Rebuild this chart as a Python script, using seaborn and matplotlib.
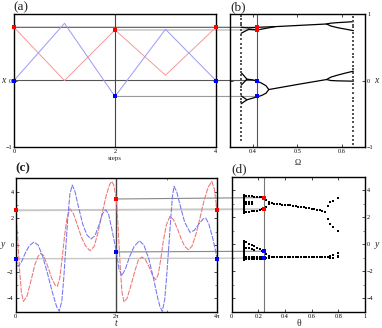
import matplotlib
matplotlib.use("Agg")
import matplotlib.pyplot as plt
import numpy as np
import seaborn as sns
from matplotlib.patches import ConnectionPatch

# (a) map iterates over 4 steps
steps = [0, 1, 2, 3, 4]
x_red = [0.80, 0.0, 0.76, 0.08, 0.80]
x_blue = [0.0, 0.86, -0.24, 0.77, 0.0]

# (b) bifurcation diagram x vs Omega
omega_star = 0.41
b_up_a_om = [0.374, 0.391, 0.41, 0.45, 0.566]
b_up_a_x = [0.80, 0.79, 0.80, 0.81, 0.85]
b_up_b_om = [0.374, 0.391, 0.41, 0.45]
b_up_b_x = [0.71, 0.77, 0.76, 0.81]
b_fork_om = [0.566, 0.575, 0.59, 0.61, 0.626]
b_fork_up_hi = [0.85, 0.862, 0.870, 0.878, 0.885]
b_fork_up_lo = [0.85, 0.82, 0.795, 0.77, 0.75]
b_low1_om = [0.374, 0.387, 0.40, 0.41, 0.42, 0.43, 0.436]
b_low1_x = [0.12, 0.02, 0.01, -0.01, -0.04, -0.08, -0.136]
b_low2_x = [-0.35, -0.29, -0.265, -0.245, -0.225, -0.19, -0.136]
b_tri_om = [0.374, 0.387]
b_tri1_x = [-0.07, 0.02]
b_tri2_x = [-0.23, -0.29]
b_mid_om = [0.436, 0.50, 0.566]
b_mid_x = [-0.136, -0.06, 0.015]
b_fork_low_hi = [0.015, 0.05, 0.08, 0.115, 0.14]
b_fork_low_lo = [0.015, 0.0, -0.005, -0.008, -0.01]
chaos_left_om = 0.374
chaos_left_x = [0.97, 0.92, 0.87, 0.83, 0.76, 0.68, 0.62, 0.55, 0.49, 0.42, 0.36,
                0.30, 0.25, 0.18, 0.13, 0.08, 0.03, -0.04, -0.10, -0.15, -0.20,
                -0.28, -0.33, -0.40, -0.46, -0.52, -0.58, -0.64, -0.71, -0.77,
                -0.83, -0.90]
chaos_right_om = 0.626
chaos_right_x = [0.95, 0.90, 0.84, 0.80, 0.72, 0.66, 0.60, 0.54, 0.47, 0.40, 0.35,
                 0.28, 0.22, 0.17, 0.11, 0.06, 0.01, -0.05, -0.12, -0.19, -0.26,
                 -0.31, -0.38, -0.45, -0.50, -0.57, -0.63, -0.70, -0.76, -0.83,
                 -0.89, -0.95]
b_red = [0.80, 0.76]
b_blue = [0.0, -0.24]

# (c) time series over two forcing periods
t_red = [0.00, 0.12, 0.25, 0.36, 0.48, 0.70, 0.95, 1.20, 1.40, 1.56, 1.75, 2.00,
         2.25, 2.45, 2.60, 2.75, 2.90, 3.05, 3.20, 3.39, 3.60, 3.85, 4.10, 4.35,
         4.64, 4.90, 5.15, 5.40, 5.65, 5.85, 5.99, 6.12, 6.283,
         6.40, 6.52, 6.63, 6.76, 6.95, 7.20, 7.45, 7.65, 7.87, 8.10, 8.35, 8.55,
         8.74, 8.90, 9.05, 9.20, 9.40, 9.63, 9.85, 10.10, 10.35, 10.55, 10.78,
         11.00, 11.25, 11.50, 11.75, 12.00, 12.24, 12.40, 12.566]
y_red = [2.60, 0.60, -2.00, -3.60, -4.22, -3.85, -2.70, -1.45, -0.85, -0.62, -0.80,
         -1.60, -2.50, -2.98, -3.10, -2.50, -1.00, 0.70, 2.00, 2.72, 2.35, 1.50,
         0.60, -0.05, -0.43, -0.10, 1.00, 2.40, 3.70, 4.50, 4.77, 4.50, 3.45,
         1.20, -1.50, -3.50, -4.27, -4.00, -3.00, -1.90, -1.15, -0.90, -1.10,
         -1.70, -2.30, -2.60, -2.20, -1.10, 0.20, 1.50, 2.15, 1.90, 1.20, 0.40,
         -0.10, -0.35, -0.10, 0.80, 2.00, 3.30, 4.30, 4.77, 4.20, 2.60]
t_blue = [0.00, 0.15, 0.35, 0.60, 0.85, 1.14, 1.40, 1.70, 2.00, 2.30, 2.55, 2.72,
          2.88, 3.00, 3.12, 3.25, 3.38, 3.53, 3.70, 3.95, 4.20, 4.45, 4.70, 4.95,
          5.20, 5.42, 5.62, 5.80, 6.00, 6.15, 6.283,
          6.45, 6.62, 6.85, 7.10, 7.40, 7.72, 8.00, 8.30, 8.60, 8.85, 9.00, 9.15,
          9.30, 9.42, 9.55, 9.68, 9.78, 9.88, 10.05, 10.30, 10.55, 10.88, 11.15,
          11.45, 11.70, 11.86, 12.05, 12.30, 12.45, 12.566]
y_blue = [-1.03, -1.60, -1.30, -0.60, -0.05, 0.22, 0.00, -0.90, -2.20, -3.60, -4.60,
          -4.97, -4.20, -2.50, -0.30, 2.00, 3.80, 4.50, 4.00, 2.70, 1.50, 0.75,
          0.45, 0.70, 1.50, 2.35, 2.64, 2.30, 1.20, 0.30, -0.52,
          -1.80, -2.30, -1.80, -0.90, -0.10, 0.32, 0.00, -1.00, -2.50, -3.90,
          -4.60, -4.97, -4.10, -2.40, -0.20, 2.00, 3.60, 4.40, 4.00, 2.80, 1.70,
          0.95, 1.10, 1.60, 1.95, 2.02, 1.60, 0.50, -0.30, -1.03]
c_mark_t = [0.0, 2 * np.pi, 4 * np.pi]
c_red = [2.60, 3.45, 2.60]
c_blue = [-1.03, -0.52, -1.03]

# (d) stroboscopic y vs theta
theta_star = 0.24
d_col_theta = 0.09
d_col_up = [3.62, 3.55, 3.48, 3.40, 3.32, 3.22, 3.12, 3.02, 2.92, 2.82, 2.72, 2.62,
            2.52, 2.42, 2.32]
d_col_low = [0.27, 0.18, 0.08, -0.02, -0.12, -0.22, -0.32, -0.42, -0.52, -0.62,
             -0.72, -0.82, -0.92, -1.02, -1.12, -1.20]
d_theta_l = [0.11, 0.13, 0.15, 0.17, 0.19, 0.21, 0.23]
d_row_a = [3.55, 3.55, 3.54, 3.53, 3.52, 3.50, 3.47]
d_row_c = [2.42, 2.42, 2.43, 2.45, 2.48, 2.52, 2.57]
d_row_d = [0.15, 0.05, -0.05, -0.16, -0.27, -0.38, -0.48]
d_row_f1 = [-0.92, -0.92, -0.92, -0.93, -0.93, -0.93, -0.94]
d_row_f2 = [-1.08, -1.08, -1.08, -1.08, -1.08, -1.08, -1.08]
d_theta_b = [0.11, 0.13, 0.15]
d_row_b1 = [3.15, 3.14, 3.12]
d_row_b2 = [2.96, 2.96, 2.97]
d_theta_e = [0.11, 0.13, 0.15, 0.17]
d_row_e = [-0.25, -0.30, -0.37, -0.44]
d_theta_m = [0.26, 0.28]
d_merge_hi = [3.28, 3.10]
d_merge_lo = [2.78, 2.95]
d_merge_neg = [-0.75, -0.90]
d_theta_u = [0.30, 0.32, 0.34, 0.36, 0.38, 0.40, 0.42, 0.44, 0.46, 0.48, 0.50,
             0.52, 0.54, 0.56, 0.58, 0.60, 0.62, 0.64, 0.66, 0.68, 0.70]
d_row_u = [3.02, 3.00, 2.98, 2.96, 2.94, 2.92, 2.90, 2.88, 2.85, 2.82, 2.79,
           2.75, 2.72, 2.68, 2.65, 2.62, 2.58, 2.55, 2.51, 2.46, 2.40]
d_theta_n = [0.26, 0.28, 0.30, 0.32, 0.34, 0.36, 0.38, 0.40, 0.42, 0.44, 0.46,
             0.48, 0.50, 0.52, 0.54, 0.56, 0.58, 0.60, 0.62, 0.64, 0.66, 0.68, 0.70]
d_row_n = [-1.00, -0.99, -0.98, -0.98, -0.98, -0.98, -0.98, -0.98, -0.98, -0.98,
           -0.98, -0.98, -0.98, -0.98, -0.98, -0.98, -0.98, -0.98, -0.98, -0.98,
           -0.98, -0.98, -0.98]
d_theta_f = [0.72, 0.74, 0.76, 0.80]
d_fork_hi = [2.85, 3.09, 3.22, 3.39]
d_fork_lo = [1.90, 1.52, 1.27, 0.95]
d_theta_k = [0.72, 0.74, 0.74, 0.76, 0.76, 0.80, 0.80, 0.80]
d_cluster = [-0.95, -0.85, -1.03, -0.78, -1.02, -0.65, -0.85, -0.98]
d_red = [3.45, 2.60]
d_blue = [-0.52, -1.03]

sns.set_style("ticks")
plt.rcParams["font.family"] = ["Liberation Serif", "DejaVu Serif"]
plt.rcParams["axes.linewidth"] = 1.0

fig = plt.figure(figsize=(3.82, 3.28), dpi=100)
ax_a = fig.add_axes([0.0366, 0.5518, 0.5288, 0.4055])
ax_b = fig.add_axes([0.6021, 0.5518, 0.3534, 0.4055])
ax_c = fig.add_axes([0.0411, 0.0497, 0.5270, 0.4067])
ax_d = fig.add_axes([0.6065, 0.0497, 0.3490, 0.4116])

for ax in [ax_a, ax_b, ax_c, ax_d]:
    ax.set_facecolor("none")
    for s in ax.spines.values():
        s.set_color("black")
    ax.tick_params(direction="in", length=2, width=0.5, labelsize=4.5, pad=1.5,
                   top=True, right=True, colors="black")
    ax.tick_params(which="minor", direction="in", length=1.2, width=0.4,
                   top=True, right=True)

red_m = "#ff0000"
blue_m = "#0000ff"

# panel (a)
sns.lineplot(x=steps, y=x_red, ax=ax_a, color="#f59a9a", lw=0.7, sort=False, zorder=2)
sns.lineplot(x=steps, y=x_blue, ax=ax_a, color="#9a9af5", lw=0.7, sort=False, zorder=2)
ax_a.axvline(2, color="#444444", lw=0.8, zorder=1)
sns.scatterplot(x=[0, 2, 4], y=[x_red[0], x_red[2], x_red[4]], ax=ax_a, color=red_m,
                marker="s", s=9, linewidth=0, zorder=5, clip_on=False)
sns.scatterplot(x=[0, 2, 4], y=[x_blue[0], x_blue[2], x_blue[4]], ax=ax_a, color=blue_m,
                marker="s", s=9, linewidth=0, zorder=5, clip_on=False)
ax_a.set_xlim(0, 4)
ax_a.set_ylim(-1, 1)
ax_a.set_xticks([0, 2, 4])
ax_a.set_yticks([-1, 0, 1])
ax_a.set_yticklabels(["\u22121", "0", ""])
ax_a.set_xlabel("steps", fontsize=5)
ax_a.xaxis.set_label_coords(0.5, -0.087)
ax_a.xaxis.label.set_va("center")
ax_a.set_ylabel("x", fontsize=7, style="italic", rotation=0)
ax_a.yaxis.set_label_coords(-0.055, 0.5)
ax_a.yaxis.label.set_va("center")

# panel (b)
for om, xs in [(b_up_a_om, b_up_a_x), (b_up_b_om, b_up_b_x),
               (b_fork_om, b_fork_up_hi), (b_fork_om, b_fork_up_lo),
               (b_low1_om, b_low1_x), (b_low1_om, b_low2_x),
               (b_tri_om, b_tri1_x), (b_tri_om, b_tri2_x),
               (b_mid_om, b_mid_x), (b_fork_om, b_fork_low_hi),
               (b_fork_om, b_fork_low_lo)]:
    sns.lineplot(x=om, y=xs, ax=ax_b, color="black", lw=0.9, sort=False, zorder=3)
sns.scatterplot(x=[chaos_left_om] * len(chaos_left_x), y=chaos_left_x, ax=ax_b,
                color="#555555", marker="s", s=0.6, linewidth=0, zorder=3)
sns.scatterplot(x=[chaos_right_om] * len(chaos_right_x), y=chaos_right_x, ax=ax_b,
                color="#555555", marker="s", s=0.6, linewidth=0, zorder=3)
ax_b.axvline(omega_star, color="#555555", lw=0.8, zorder=1)
sns.scatterplot(x=[omega_star] * 2, y=b_red, ax=ax_b, color=red_m, marker="s", s=9,
                linewidth=0, zorder=5)
sns.scatterplot(x=[omega_star] * 2, y=b_blue, ax=ax_b, color=blue_m, marker="s", s=9,
                linewidth=0, zorder=5)
ax_b.set_xlim(0.349, 0.652)
ax_b.set_ylim(-1, 1)
ax_b.set_xticks([0.4, 0.5, 0.6])
ax_b.set_yticks([-1, 0, 1])
ax_b.set_yticklabels(["\u22121", "0", "1"])
ax_b.tick_params(labelleft=False, labelright=True)
ax_b.set_xlabel("\u03a9", fontsize=6)
ax_b.xaxis.set_label_coords(0.5, -0.12)
ax_b.xaxis.label.set_va("center")
ax_b.set_ylabel("x", fontsize=7, style="italic", rotation=0)
ax_b.yaxis.set_label_position("right")
ax_b.yaxis.set_label_coords(1.087, 0.5)
ax_b.yaxis.label.set_va("center")

# panel (c)
sns.lineplot(x=t_red, y=y_red, ax=ax_c, color="#ee7474", lw=0.75, sort=False,
             linestyle=(0, (5, 1.2)), zorder=2)
sns.lineplot(x=t_blue, y=y_blue, ax=ax_c, color="#7474ee", lw=0.75, sort=False,
             linestyle=(0, (5, 1.2)), zorder=2)
ax_c.axvline(2 * np.pi, color="#444444", lw=1.0, zorder=1)
sns.scatterplot(x=c_mark_t, y=c_red, ax=ax_c, color=red_m, marker="s", s=9,
                linewidth=0, zorder=5, clip_on=False)
sns.scatterplot(x=c_mark_t, y=c_blue, ax=ax_c, color=blue_m, marker="s", s=9,
                linewidth=0, zorder=5, clip_on=False)
ax_c.set_xlim(0, 4 * np.pi)
ax_c.set_ylim(-5, 5)
ax_c.set_xticks([0, 2 * np.pi, 4 * np.pi])
ax_c.set_xticklabels(["0", "2\u03c0", "4\u03c0"])
ax_c.set_xticks([3 * np.pi], minor=True)
ax_c.set_yticks([-4, -2, 0, 2, 4])
ax_c.set_yticklabels(["\u22124", "\u22122", "0", "2", "4"])
ax_c.set_yticks([-3, -1, 1, 3], minor=True)
ax_c.set_xlabel("t", fontsize=7, style="italic")
ax_c.xaxis.set_label_coords(0.5, -0.087)
ax_c.xaxis.label.set_va("center")
ax_c.set_ylabel("y", fontsize=7, style="italic", rotation=0)
ax_c.yaxis.set_label_coords(-0.065, 0.5)
ax_c.yaxis.label.set_va("center")

# panel (d)
dot = dict(color="black", marker="s", s=1.0, linewidth=0, zorder=3)
sns.scatterplot(x=[d_col_theta] * len(d_col_up), y=d_col_up, ax=ax_d, **dot)
sns.scatterplot(x=[d_col_theta] * len(d_col_low), y=d_col_low, ax=ax_d, **dot)
for th, ys in [(d_theta_l, d_row_a), (d_theta_l, d_row_c), (d_theta_l, d_row_d),
               (d_theta_l, d_row_f1), (d_theta_l, d_row_f2), (d_theta_b, d_row_b1),
               (d_theta_b, d_row_b2), (d_theta_e, d_row_e), (d_theta_m, d_merge_hi),
               (d_theta_m, d_merge_lo), (d_theta_m, d_merge_neg), (d_theta_u, d_row_u),
               (d_theta_n, d_row_n), (d_theta_f, d_fork_hi), (d_theta_f, d_fork_lo),
               (d_theta_k, d_cluster)]:
    sns.scatterplot(x=th, y=ys, ax=ax_d, **dot)
ax_d.axvline(theta_star, color="#777777", lw=0.8, zorder=1)
sns.scatterplot(x=[theta_star] * 2, y=d_red, ax=ax_d, color=red_m, marker="s", s=9,
                linewidth=0, zorder=5)
sns.scatterplot(x=[theta_star] * 2, y=d_blue, ax=ax_d, color=blue_m, marker="s", s=9,
                linewidth=0, zorder=5)
ax_d.set_xlim(0, 1)
ax_d.set_ylim(-5, 5)
ax_d.set_xticks([0, 0.2, 0.4, 0.6, 0.8, 1.0])
ax_d.set_xticklabels(["0", "0.2", "0.4", "0.6", "0.8", "1"])
ax_d.set_yticks([-4, -2, 0, 2, 4])
ax_d.set_yticklabels(["\u22124", "\u22122", "0", "2", "4"])
ax_d.set_yticks([-3, -1, 1, 3], minor=True)
ax_d.tick_params(labelleft=False, labelright=True)
ax_d.set_xlabel("\u03b8", fontsize=7)
ax_d.xaxis.set_label_coords(0.5, -0.086)
ax_d.xaxis.label.set_va("center")
ax_d.set_ylabel("y", fontsize=7, style="italic", rotation=0)
ax_d.yaxis.set_label_position("right")
ax_d.yaxis.set_label_coords(1.088, 0.5)
ax_d.yaxis.label.set_va("center")

# guide lines linking the marked points to the diagrams
links = [
    (ax_a, (0, x_red[0]), ax_b, (omega_star, b_red[0]), "#555555", 0.8),
    (ax_a, (0, x_blue[0]), ax_b, (omega_star, b_blue[0]), "#555555", 0.8),
    (ax_a, (2, x_red[2]), ax_b, (omega_star, b_red[1]), "#b0b0b0", 0.8),
    (ax_a, (2, x_blue[2]), ax_b, (omega_star, b_blue[1]), "#999999", 0.8),
    (ax_c, (0, c_red[0]), ax_d, (theta_star, d_red[1]), "#c8c8c8", 1.4),
    (ax_c, (2 * np.pi, c_red[1]), ax_d, (theta_star, d_red[0]), "#888888", 0.8),
    (ax_c, (2 * np.pi, c_blue[1]), ax_d, (theta_star, d_blue[0]), "#888888", 0.8),
    (ax_c, (0, c_blue[0]), ax_d, (theta_star, d_blue[1]), "#c8c8c8", 1.0),
]
for a1, p1, a2, p2, col, lw in links:
    con = ConnectionPatch(xyA=p1, coordsA=a1.transData, xyB=p2, coordsB=a2.transData,
                          color=col, lw=lw, zorder=-1)
    fig.add_artist(con)

fig.text(13 / 382, 1 - 1.5 / 328, "(a)", fontsize=9.5, va="top", ha="left")
fig.text(230 / 382, 1 - 1.5 / 328, "(b)", fontsize=9.5, va="top", ha="left")
fig.text(15 / 382, 1 - 162.5 / 328, "(c)", fontsize=9.5, va="top", ha="left",
         weight="bold")
fig.text(231 / 382, 1 - 163 / 328, "(d)", fontsize=9.5, va="top", ha="left")

fig.savefig("out.png", dpi=100)
